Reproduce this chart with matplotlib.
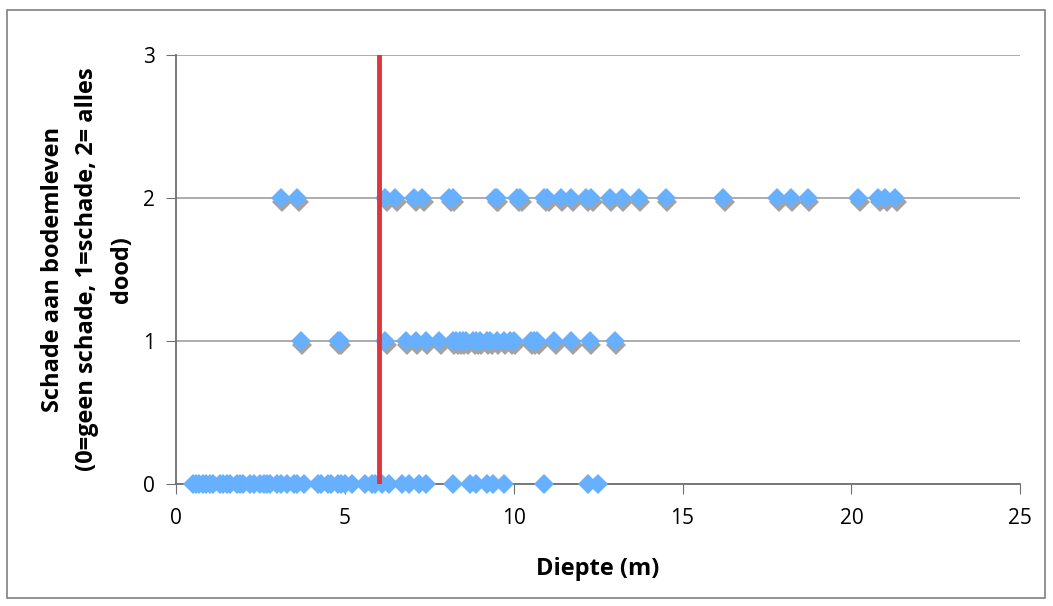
import numpy as np
import matplotlib.pyplot as plt
from matplotlib.patches import Rectangle
from matplotlib.transforms import offset_copy

# Diepte (m) per schadeklasse
diepte_0 = [0.5, 0.6, 0.7, 0.8, 0.9, 1.0, 1.1, 1.3, 1.4, 1.5, 1.6, 1.8, 1.9, 2.0,
            2.2, 2.3, 2.5, 2.6, 2.7, 2.8, 3.0, 3.1, 3.3, 3.5, 3.6, 3.8,
            4.2, 4.3, 4.5, 4.6, 4.8, 4.9, 5.0, 5.2, 5.6, 5.8, 5.9, 6.1, 6.3,
            6.7, 6.9, 7.2, 7.4, 8.2, 8.7, 8.9, 9.2, 9.4, 9.7, 10.9, 12.2, 12.5]
diepte_1 = [3.7, 4.8, 4.85, 6.2, 6.8, 7.1, 7.4, 7.8, 8.2, 8.3, 8.4, 8.5, 8.6, 8.8,
            8.9, 9.0, 9.2, 9.3, 9.5, 9.7, 9.9, 10.0, 10.5, 10.6, 10.7, 11.2,
            11.7, 12.25, 13.0]
diepte_2 = [3.1, 3.6, 6.2, 6.5, 7.05, 7.3, 8.1, 8.2, 9.45, 9.5, 10.1, 10.2, 10.9,
            11.0, 11.4, 11.7, 12.15, 12.3, 12.85, 13.2, 13.7, 14.5, 16.2, 17.8,
            18.2, 18.7, 20.2, 20.8, 21.0, 21.3]
schade = [0, 1, 2]
grens_diepte = 6

plt.rcParams['font.family'] = ['Open Sans', 'DejaVu Sans']

fig = plt.figure(figsize=(10.53, 6.06), dpi=100)
ax = fig.add_axes([0.167, 0.201, 0.802, 0.708])

shadow_tr = offset_copy(ax.transData, fig=fig, x=1.5, y=-4, units='dots')
for s, d in zip(schade, [diepte_0, diepte_1, diepte_2]):
    y = np.full(len(d), s, dtype=float)
    # schaduw
    ax.plot(d, y, linestyle='none', marker='D', markersize=10.5, transform=shadow_tr,
            color='#a3a3a3', markeredgewidth=0, zorder=2, clip_on=True)
    ax.plot(d, y, linestyle='none', marker='D', markersize=10.5,
            color='#66b0ff', markeredgewidth=0, zorder=3, clip_on=False)

ax.plot([grens_diepte, grens_diepte], [0, 3], color='#e0343c', linewidth=3.5, zorder=4)

ax.set_xlim(0, 25)
ax.set_ylim(0, 3)
ax.set_xticks([0, 5, 10, 15, 20, 25])
ax.set_yticks([0, 1, 2, 3])
ax.yaxis.grid(True, color='#a6a6a6', linewidth=1.3)
ax.set_axisbelow(True)
for side in ['top', 'right']:
    ax.spines[side].set_visible(False)
for side in ['left', 'bottom']:
    ax.spines[side].set_color('#707070')
    ax.spines[side].set_linewidth(1.3)
ax.tick_params(direction='out', length=7, color='#707070', labelsize=15)
ax.tick_params(axis='x', pad=10)
ax.tick_params(axis='y', pad=8)

fig.text(0.568, 0.051, "Diepte (m)", fontsize=17, fontweight='bold',
         ha='center', va='baseline')
fig.text(0.083, 0.556, "Schade aan bodemleven\n(0=geen schade, 1=schade, 2= alles\ndood)",
         fontsize=17, fontweight='bold', rotation=90, ha='center', va='center',
         multialignment='center', linespacing=1.6)

fig.patches.append(Rectangle((0.007, 0.013), 0.985, 0.97, transform=fig.transFigure,
                             fill=False, edgecolor='#808080', linewidth=1.2))

plt.savefig('out.png', dpi=100)
